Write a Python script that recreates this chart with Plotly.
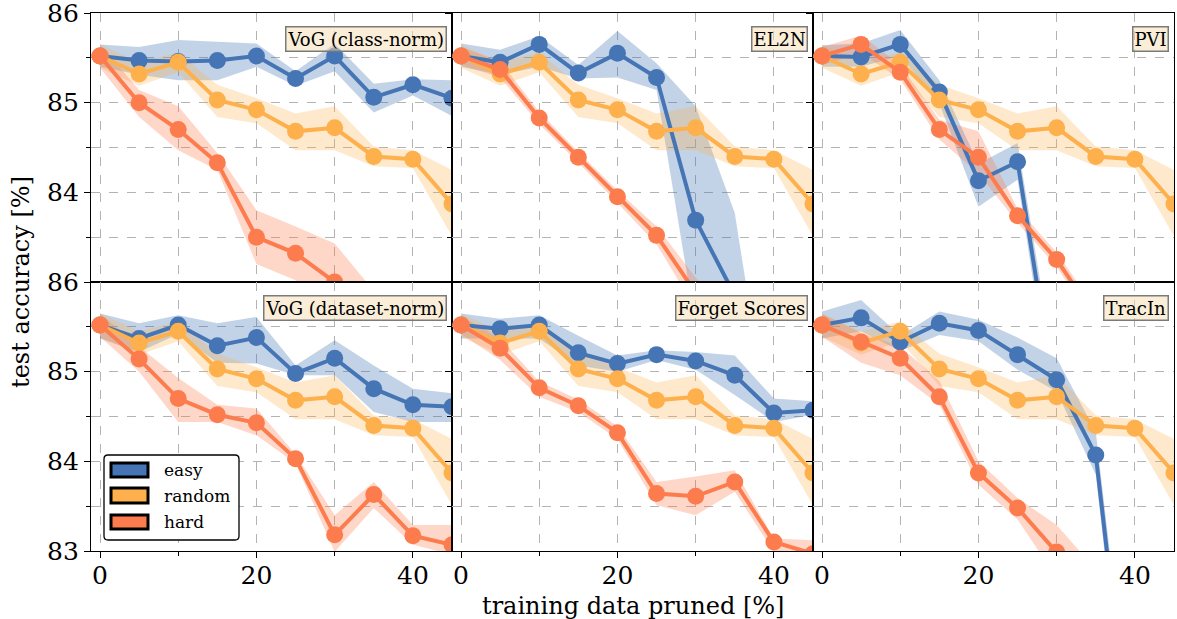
import plotly.graph_objects as go

# ---------------- data ----------------
pruned = [0, 5, 10, 15, 20, 25, 30, 35, 40, 45]
panel_titles = ["VoG (class-norm)", "EL2N", "PVI", "VoG (dataset-norm)", "Forget Scores", "TracIn"]
series_names = ["easy", "random", "hard"]

random_mean = [85.52, 85.32, 85.45, 85.03, 84.92, 84.68, 84.72, 84.40, 84.37, 83.87]
random_hi = [85.65, 85.45, 85.56, 85.20, 85.05, 84.88, 84.96, 84.51, 84.47, 84.25]
random_lo = [85.39, 85.19, 85.34, 84.84, 84.77, 84.47, 84.47, 84.29, 84.27, 83.51]

vogc_easy = [85.52, 85.47, 85.46, 85.47, 85.52, 85.27, 85.52, 85.06, 85.20, 85.05]
vogc_easy_hi = [85.65, 85.62, 85.70, 85.68, 85.66, 85.35, 85.66, 85.21, 85.26, 85.25]
vogc_easy_lo = [85.40, 85.31, 85.25, 85.25, 85.40, 85.19, 85.35, 84.89, 85.08, 84.85]
vogc_hard = [85.52, 85.00, 84.70, 84.33, 83.50, 83.32, 83.00, 82.60, 82.30, 82.00]
vogc_hard_hi = [85.65, 85.14, 84.96, 84.44, 83.80, 83.62, 83.43, 82.90, 82.60, 82.30]
vogc_hard_lo = [85.39, 84.84, 84.47, 84.25, 83.20, 83.02, 82.60, 82.30, 82.00, 81.70]

el2n_easy = [85.52, 85.45, 85.65, 85.33, 85.55, 85.28, 83.69, 82.85, 82.40, 82.00]
el2n_easy_hi = [85.66, 85.59, 85.74, 85.42, 85.80, 85.44, 84.96, 83.77, 81.00, 80.50]
el2n_easy_lo = [85.40, 85.31, 85.40, 85.27, 85.28, 85.14, 82.50, 82.00, 80.50, 80.00]
el2n_hard = [85.52, 85.37, 84.83, 84.39, 83.95, 83.52, 82.88, 82.40, 82.00, 81.60]
el2n_hard_hi = [85.62, 85.46, 84.90, 84.45, 84.02, 83.62, 83.05, 82.55, 82.15, 81.75]
el2n_hard_lo = [85.42, 85.28, 84.76, 84.33, 83.88, 83.42, 82.70, 82.25, 81.85, 81.45]

pvi_easy = [85.52, 85.51, 85.65, 85.12, 84.13, 84.34, 81.60, 81.00, 80.50, 80.00]
pvi_easy_hi = [85.64, 85.66, 85.81, 85.25, 84.32, 84.55, 81.90, 81.30, 80.80, 80.30]
pvi_easy_lo = [85.40, 85.40, 85.52, 84.99, 83.84, 84.14, 81.30, 80.70, 80.20, 79.70]
pvi_hard = [85.52, 85.65, 85.34, 84.70, 84.39, 83.74, 83.25, 82.60, 82.20, 81.80]
pvi_hard_hi = [85.62, 85.75, 85.42, 84.81, 84.68, 83.82, 83.33, 82.70, 82.30, 81.90]
pvi_hard_lo = [85.42, 85.55, 85.26, 84.59, 84.21, 83.66, 83.17, 82.50, 82.10, 81.70]

vogd_easy = [85.52, 85.37, 85.52, 85.29, 85.38, 84.98, 85.15, 84.81, 84.63, 84.61]
vogd_easy_hi = [85.65, 85.54, 85.63, 85.54, 85.61, 85.07, 85.35, 85.07, 84.81, 84.76]
vogd_easy_lo = [85.37, 85.22, 85.42, 85.10, 85.09, 84.96, 84.96, 84.55, 84.44, 84.44]
vogd_hard = [85.52, 85.14, 84.70, 84.52, 84.43, 84.03, 83.18, 83.63, 83.17, 83.07]
vogd_hard_hi = [85.65, 85.28, 84.93, 84.63, 84.59, 84.08, 83.40, 83.77, 83.29, 83.29]
vogd_hard_lo = [85.39, 85.00, 84.44, 84.44, 84.29, 83.98, 82.99, 83.48, 83.07, 82.96]

forget_easy = [85.52, 85.48, 85.52, 85.21, 85.09, 85.19, 85.12, 84.96, 84.54, 84.57]
forget_easy_hi = [85.65, 85.59, 85.63, 85.40, 85.18, 85.24, 85.22, 85.18, 84.70, 84.67]
forget_easy_lo = [85.37, 85.37, 85.37, 85.07, 85.00, 85.13, 85.02, 84.74, 84.44, 84.52]
forget_hard = [85.52, 85.26, 84.82, 84.62, 84.32, 83.64, 83.61, 83.77, 83.10, 82.97]
forget_hard_hi = [85.62, 85.37, 84.89, 84.69, 84.39, 83.77, 83.83, 83.90, 83.14, 83.12]
forget_hard_lo = [85.42, 85.13, 84.72, 84.55, 84.25, 83.51, 83.40, 83.66, 82.99, 82.88]

tracin_easy = [85.52, 85.60, 85.33, 85.54, 85.46, 85.19, 84.91, 84.07, 80.30, 79.50]
tracin_easy_hi = [85.67, 85.80, 85.40, 85.67, 85.58, 85.38, 85.15, 84.33, 80.60, 79.80]
tracin_easy_lo = [85.37, 85.45, 85.23, 85.41, 85.34, 85.02, 84.78, 83.85, 80.00, 79.20]
tracin_hard = [85.52, 85.33, 85.15, 84.72, 83.87, 83.48, 82.99, 82.50, 82.00, 81.50]
tracin_hard_hi = [85.65, 85.43, 85.28, 84.90, 84.00, 83.59, 83.29, 82.80, 82.30, 81.80]
tracin_hard_lo = [85.39, 85.10, 84.96, 84.63, 83.74, 83.35, 82.70, 82.20, 81.70, 81.20]

y_ticks = [83, 84, 85, 86]
x_ticks = [0, 20, 40]

# ---------------- styling ----------------
colors = {"easy": "#4575b4", "random": "#fdb04b", "hard": "#fd7c4d"}
bands = {"easy": "rgba(69,117,180,0.32)", "random": "rgba(253,176,75,0.28)", "hard": "rgba(253,124,77,0.30)"}
FONT = "DejaVu Serif"
W, H = 1177, 619

panels = [
    (vogc_easy, vogc_easy_lo, vogc_easy_hi, vogc_hard, vogc_hard_lo, vogc_hard_hi),
    (el2n_easy, el2n_easy_lo, el2n_easy_hi, el2n_hard, el2n_hard_lo, el2n_hard_hi),
    (pvi_easy, pvi_easy_lo, pvi_easy_hi, pvi_hard, pvi_hard_lo, pvi_hard_hi),
    (vogd_easy, vogd_easy_lo, vogd_easy_hi, vogd_hard, vogd_hard_lo, vogd_hard_hi),
    (forget_easy, forget_easy_lo, forget_easy_hi, forget_hard, forget_hard_lo, forget_hard_hi),
    (tracin_easy, tracin_easy_lo, tracin_easy_hi, tracin_hard, tracin_hard_lo, tracin_hard_hi),
]

# pixel geometry of panel grid
left_px, right_px, top_px, bottom_px = 91, 1174, 13, 551
col_w = (right_px - left_px) / 3
row_h = (bottom_px - top_px) / 2

fig = go.Figure()
layout = dict(
    width=W, height=H, margin=dict(l=0, r=0, t=0, b=0, autoexpand=False),
    paper_bgcolor="white", plot_bgcolor="white", showlegend=False,
    font=dict(family=FONT, color="black"),
)
annotations = []
shapes = []

for i, p in enumerate(panels):
    r, c = divmod(i, 3)
    n = i + 1
    xa = "x" if n == 1 else f"x{n}"
    ya = "y" if n == 1 else f"y{n}"
    e, elo, ehi, h, hlo, hhi = p
    series = [("easy", e, elo, ehi), ("random", random_mean, random_lo, random_hi), ("hard", h, hlo, hhi)]
    for name, m, lo, hi in series:
        fig.add_trace(go.Scatter(
            x=pruned + pruned[::-1], y=hi + lo[::-1], fill="toself", fillcolor=bands[name],
            line=dict(width=0), mode="lines", hoverinfo="skip", xaxis=xa, yaxis=ya))
    for name, m, lo, hi in series:
        fig.add_trace(go.Scatter(
            x=pruned, y=m, mode="lines+markers", name=name,
            line=dict(color=colors[name], width=4),
            marker=dict(color=colors[name], size=17),
            xaxis=xa, yaxis=ya))

    x0 = (left_px + c * col_w) / W
    x1 = (left_px + (c + 1) * col_w) / W
    y1 = 1 - (top_px + r * row_h) / H
    y0 = 1 - (top_px + (r + 1) * row_h) / H
    kx = "xaxis" if n == 1 else f"xaxis{n}"
    ky = "yaxis" if n == 1 else f"yaxis{n}"
    layout[kx] = dict(
        domain=[x0, x1], anchor=ya, range=[-1.15, 45], tickvals=x_ticks, automargin=False,
        showticklabels=(r == 1), tickfont=dict(size=25, family=FONT), ticklabeloverflow="allow",
        ticklabelstandoff=-4,
        ticks="outside", ticklen=6, tickwidth=1, tickcolor="black",
        showline=True, mirror=True, linecolor="black", linewidth=1.3,
        showgrid=True, gridcolor="#b3b3b3", griddash="dash", gridwidth=1,
        minor=dict(dtick=10, tick0=0, ticks="outside", ticklen=3.5, tickcolor="black",
                   showgrid=True, gridcolor="#b3b3b3", griddash="dash", gridwidth=1),
        zeroline=False, fixedrange=True,
    )
    yt = y_ticks if r == 1 else y_ticks[1:]
    layout[ky] = dict(
        domain=[y0, y1], anchor=xa, range=[83, 86], tickvals=yt, automargin=False,
        showticklabels=(c == 0), tickfont=dict(size=25, family=FONT), ticklabeloverflow="allow",
        ticks="outside", ticklen=6, tickwidth=1, tickcolor="black",
        showline=True, mirror=True, linecolor="black", linewidth=1.3,
        showgrid=True, gridcolor="#b3b3b3", griddash="dash", gridwidth=1,
        minor=dict(dtick=0.5, tick0=83, ticks="outside", ticklen=3.5, tickcolor="black",
                   showgrid=True, gridcolor="#b3b3b3", griddash="dash", gridwidth=1),
        zeroline=False, fixedrange=True,
    )
    annotations.append(dict(
        text=panel_titles[i], xref=f"{xa} domain", yref=f"{ya} domain",
        x=0.985, y=0.95, xanchor="right", yanchor="top", showarrow=False,
        font=dict(size=18, family=FONT, color="black"),
        bgcolor="rgba(245,222,179,0.5)", bordercolor="#7a7a7a", borderwidth=1.5, borderpad=1,
    ))

# axis labels
annotations.append(dict(text="test accuracy [%]", xref="paper", yref="paper",
                        x=21 / W, y=1 - 282 / H, xanchor="center", yanchor="middle",
                        textangle=-90, showarrow=False, font=dict(size=24, family=FONT)))
annotations.append(dict(text="training data pruned [%]", xref="paper", yref="paper",
                        x=(left_px + right_px) / 2 / W, y=1 - 606 / H, xanchor="center",
                        yanchor="middle", showarrow=False, font=dict(size=24, family=FONT)))

# legend (drawn manually to mimic a patch legend with rounded frame)
lx0, ly0, lx1, ly1, rad = 104, 455, 239, 540, 4


def px(x):
    return x / W


def py(y):
    return 1 - y / H


frame = (f"M {px(lx0 + rad)},{py(ly0)} L {px(lx1 - rad)},{py(ly0)} "
         f"Q {px(lx1)},{py(ly0)} {px(lx1)},{py(ly0 + rad)} L {px(lx1)},{py(ly1 - rad)} "
         f"Q {px(lx1)},{py(ly1)} {px(lx1 - rad)},{py(ly1)} L {px(lx0 + rad)},{py(ly1)} "
         f"Q {px(lx0)},{py(ly1)} {px(lx0)},{py(ly1 - rad)} L {px(lx0)},{py(ly0 + rad)} "
         f"Q {px(lx0)},{py(ly0)} {px(lx0 + rad)},{py(ly0)} Z")
shapes.append(dict(type="path", xref="paper", yref="paper", path=frame,
                   line=dict(color="black", width=1.3), fillcolor="white", layer="above"))
patch_rows = [(463, 477), (488, 503), (515, 529)]
for name, (py0, py1) in zip(series_names, patch_rows):
    shapes.append(dict(type="rect", xref="paper", yref="paper",
                       x0=px(111), x1=px(148), y0=py(py1), y1=py(py0),
                       line=dict(color="black", width=3), fillcolor=colors[name], layer="above"))
    annotations.append(dict(text=name, xref="paper", yref="paper",
                            x=px(162), y=py((py0 + py1) / 2), xanchor="left", yanchor="middle",
                            showarrow=False, font=dict(size=17, family=FONT, color="black")))

layout["annotations"] = annotations
layout["shapes"] = shapes
fig.update_layout(**layout)
fig.write_html("out.html")
